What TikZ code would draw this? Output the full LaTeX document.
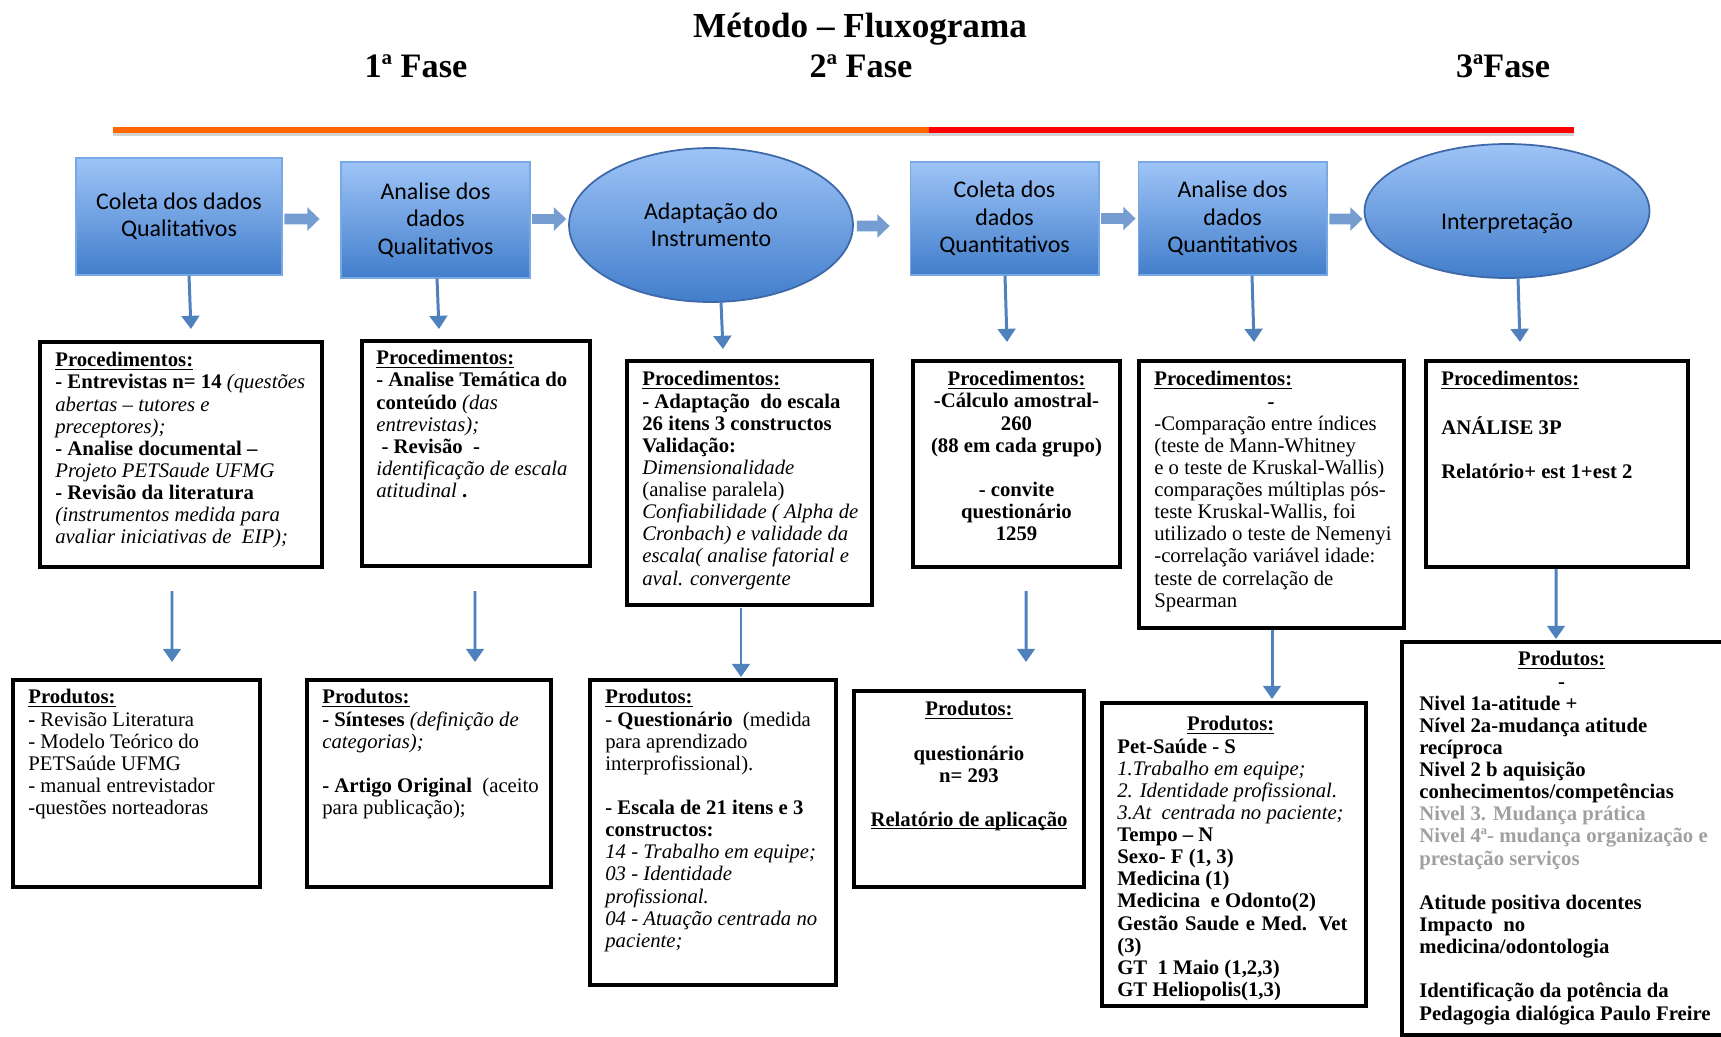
\documentclass[tikz,border=0pt]{standalone}
\usepackage{fontspec}
\setmainfont{Liberation Serif}
\newfontfamily\shapefont{Carlito}
\usetikzlibrary{shapes.geometric,arrows.meta,calc}
\definecolor{topb}{RGB}{158,196,247}
\definecolor{botb}{RGB}{66,126,203}
\definecolor{edgeb}{RGB}{62,104,168}
\definecolor{arrb}{RGB}{79,129,189}
\definecolor{fatb}{RGB}{118,157,210}
\definecolor{lineor}{RGB}{255,102,0}
\definecolor{linered}{RGB}{255,0,0}
\definecolor{lgray}{RGB}{160,160,160}
\newcommand{\mybf}[1]{\textbf{#1}}
\newcommand{\myit}[1]{\textit{#1}}
\newsavebox\myulbox
\newcommand{\ulb}[1]{\sbox\myulbox{\textbf{#1}}\rlap{\rule[-1.6pt]{\wd\myulbox}{0.6pt}}\usebox\myulbox}
\tikzset{
  rectshape/.style={rectangle, inner sep=0pt, top color=topb, bottom color=botb, draw=topb!60!botb, line width=0.6pt, align=center, font=\shapefont\fontsize{13.6}{15.6}\selectfont},
  ellshape/.style={ellipse, inner sep=0pt, top color=topb, bottom color=botb, draw=edgeb, line width=1pt, align=center, font=\shapefont\fontsize{13.6}{15.6}\selectfont},
  fatarrow/.style={draw=fatb, line width=6.2pt, -{Triangle[width=13pt,length=7pt]}},
  varrow/.style={draw=arrb, line width=1.7pt, -{Triangle[width=10pt,length=7.5pt]}},
  infobox/.style={draw=black, line width=2.3pt, inner sep=0pt, anchor=north west, fill=white},
  ltext/.style={inner sep=0pt, anchor=north west, align=left, font=\fontsize{11.8}{12.6}\selectfont},
  ctext/.style={inner sep=0pt, anchor=north, align=center, font=\fontsize{11.8}{12.6}\selectfont},
  headtext/.style={inner sep=0pt, anchor=base, font=\bfseries\fontsize{19.5}{23}\selectfont}
}
\begin{document}
\begin{tikzpicture}[x=0.02cm, y=-0.02cm]
\useasboundingbox (0,0) rectangle (1721,1036);
\fill[white] (0,0) rectangle (1721,1036);

% title and phases
\node[inner sep=0pt, anchor=base, font=\bfseries\fontsize{20}{24}\selectfont] (title) at (860,37) {Método – Fluxograma};
\node[headtext] (ph1) at (416,77) {1ª Fase};
\node[headtext] (ph2) at (861,77) {2ª Fase};
\node[headtext] (ph3) at (1503,77) {3ªFase};

% phase line
\coordinate (l0) at (113,130);
\coordinate (l1) at (929,130);
\coordinate (l2) at (1574,130);
\draw[gray!35, line width=1.8pt] ($(l0)+(0,4)$) -- ($(l2)+(0,4)$);
\draw[lineor, line width=2.9pt] (l0) -- (l1);
\draw[linered, line width=2.9pt] (l1) -- (l2);

% top shapes
\node[rectshape, minimum width=4.12cm, minimum height=2.34cm] (r1) at (179,216.5) {Coleta dos dados\\Qualitativos};
\node[rectshape, minimum width=3.78cm, minimum height=2.32cm] (r2) at (435.5,220) {Analise dos\\dados\\Qualitativos};
\node[ellshape, minimum width=5.68cm, minimum height=3.08cm] (e3) at (711,225) {Adaptação do\\Instrumento};
\node[rectshape, minimum width=3.78cm, minimum height=2.26cm] (r4) at (1004.5,218.5) {Coleta dos\\dados\\Quantitativos};
\node[rectshape, minimum width=3.78cm, minimum height=2.26cm] (r5) at (1232.5,218.5) {Analise dos\\dados\\Quantitativos};
\node[ellshape, minimum width=5.70cm, minimum height=2.68cm] (e6) at (1507,211) {};
\node[inner sep=0pt, font=\shapefont\fontsize{13.6}{15.6}\selectfont] (e6t) at (1507,224) {Interpretação};

% fat arrows
\draw[fatarrow, shorten <=1.1pt, shorten >=11.9pt] ($(r1.east)+(0,2.5)$) -- ($(r2.west)+(0,-1)$);
\draw[fatarrow, shorten <=1.1pt, shorten >=1.1pt] ($(r2.east)+(0,-1)$) -- ($(e3.west)+(0,-6)$);
\draw[fatarrow, shorten <=1.7pt, shorten >=11.3pt] ($(e3.east)+(0,1)$) -- ($(r4.west)+(0,7.5)$);
\draw[fatarrow, shorten <=1.1pt, shorten >=1.1pt] (r4.east) -- (r5.west);
\draw[fatarrow, shorten <=1.1pt, shorten >=0.6pt] ($(r5.east)+(0,0.5)$) -- ($(e6.west)+(0,8)$);

% procedure boxes
\node[infobox, minimum width=5.64cm, minimum height=4.50cm] (p1) at (38,340) {};
\node[infobox, minimum width=4.56cm, minimum height=4.50cm] (p2) at (360,339) {};
\node[infobox, minimum width=4.90cm, minimum height=4.88cm] (p3) at (625,359) {};
\node[infobox, minimum width=4.14cm, minimum height=4.12cm] (p4) at (911,359) {};
\node[infobox, minimum width=5.30cm, minimum height=5.34cm] (p5) at (1137,359) {};
\node[infobox, minimum width=5.24cm, minimum height=4.12cm] (p6) at (1424,359) {};

\node[ltext] (p1t) at ($(p1.north west)+(17,11)$) {\strut\ulb{Procedimentos:}\\
\mybf{- Entrevistas n= 14} \myit{(questões}\\
\myit{abertas – tutores e}\\
\myit{preceptores);}\\
\mybf{- Analise documental –}\\
\myit{Projeto PETSaude UFMG}\\
\mybf{- Revisão da literatura}\\
\myit{(instrumentos medida para}\\
\myit{avaliar iniciativas de\ \ EIP);}};

\node[ltext] (p2t) at ($(p2.north west)+(16,10)$) {\strut\ulb{Procedimentos:}\\
\mybf{- Analise Temática do}\\
\mybf{conteúdo} \myit{(das}\\
\myit{entrevistas);}\\
\hspace*{3pt}\mybf{- Revisão\ \ -}\\
\myit{identificação de escala}\\
\myit{atitudinal} \mybf{.}};

\node[ltext] (p3t) at ($(p3.north west)+(17,11)$) {\strut\ulb{Procedimentos:}\\
\mybf{- Adaptação\ \ do escala}\\
\mybf{26 itens 3 constructos}\\
\mybf{Validação:}\\
\myit{Dimensionalidade}\\
(analise paralela)\\
\myit{Confiabilidade ( Alpha de}\\
\myit{Cronbach) e validade da}\\
\myit{escala( analise fatorial e}\\
\myit{aval. convergente}};

\node[ctext] (p4t) at ($(p4.north)+(0,11)$) {\strut\ulb{Procedimentos:}\\
\mybf{-Cálculo amostral-}\\
\mybf{260}\\
\mybf{(88 em cada grupo)}\\
\strut\\
\mybf{- convite}\\
\mybf{questionário}\\
\mybf{1259}};

\node[ltext] (p5t) at ($(p5.north west)+(17,11)$) {\strut\ulb{Procedimentos:}\\
\makebox[133pt]{\mybf{-}}\\
-Comparação entre índices\\
(teste de Mann-Whitney\\
e o teste de Kruskal-Wallis)\\
comparações múltiplas pós-\\
teste Kruskal-Wallis, foi\\
utilizado o teste de Nemenyi\\
-correlação variável idade:\\
teste de correlação de\\
Spearman};

\node[ltext] (p6t) at ($(p6.north west)+(17,11)$) {\strut\ulb{Procedimentos:}\\
\strut\\
\mybf{ANÁLISE 3P}\\
\strut\\
\mybf{Relatório+ est 1+est 2}};

% product boxes
\node[infobox, minimum width=4.94cm, minimum height=4.14cm] (q1) at (11,678) {};
\node[infobox, minimum width=4.88cm, minimum height=4.14cm] (q2) at (305,678) {};
\node[infobox, minimum width=4.92cm, minimum height=6.10cm] (q3) at (588,678) {};
\node[infobox, minimum width=4.60cm, minimum height=3.92cm] (q4) at (852,689) {};
\node[infobox, minimum width=5.28cm, minimum height=6.06cm] (q5) at (1100,701) {};
\node[infobox, minimum width=6.60cm, minimum height=7.86cm] (q6) at (1400,640) {};

\node[ltext] (q1t) at ($(q1.north west)+(17,10)$) {\strut\ulb{Produtos:}\\
\mybf{-} Revisão Literatura\\
- Modelo Teórico do\\
PETSaúde UFMG\\
- manual entrevistador\\
-questões norteadoras};

\node[ltext] (q2t) at ($(q2.north west)+(17,10)$) {\strut\ulb{Produtos:}\\
\mybf{- Sínteses} \myit{(definição de}\\
\myit{categorias);}\\
\strut\\
\mybf{- Artigo Original}\ \ (aceito\\
para publicação);};

\node[ltext] (q3t) at ($(q3.north west)+(17,10)$) {\strut\ulb{Produtos:}\\
- \mybf{Questionário}\ \ (medida\\
para aprendizado\\
interprofissional).\\
\strut\\
\mybf{- Escala de 21 itens e 3}\\
\mybf{constructos:}\\
\myit{14 - Trabalho em equipe;}\\
\myit{03 - Identidade}\\
\myit{profissional.}\\
\myit{04 - Atuação centrada no}\\
\myit{paciente;}};

\node[ctext] (q4t) at ($(q4.north)+(0,11)$) {\strut\ulb{Produtos:}\\
\strut\\
\mybf{questionário}\\
\mybf{n= 293}\\
\strut\\
\ulb{Relatório de aplicação}};

\begin{scope}
\clip ($(q5.north west)+(4,4)$) rectangle ($(q5.south east)+(-4,-4)$);
\node[ltext] (q5t) at ($(q5.north west)+(17,14)$) {\strut\makebox[129pt]{\ulb{Produtos:}}\\
\mybf{Pet-Saúde - S}\\
\myit{1.Trabalho em equipe;}\\
\myit{2. Identidade profissional.}\\
\myit{3.At\ \ centrada no paciente;}\\
\mybf{Tempo – N}\\
\mybf{Sexo- F (1, 3)}\\
\mybf{Medicina (1)}\\
\mybf{Medicina\ \ e Odonto(2)}\\
\makebox[131pt][s]{\bfseries Gestão Saude e Med. Vet}\\
\mybf{(3)}\\
\mybf{GT\ \ 1 Maio (1,2,3)}\\
\mybf{GT Heliopolis(1,3)}};
\end{scope}

\node[ltext] (q6t) at ($(q6.north west)+(19,10)$) {\strut\makebox[162pt]{\ulb{Produtos:}}\\
\makebox[162pt]{\mybf{-}}\\
\mybf{Nivel 1a-atitude +}\\
\mybf{Nível 2a-mudança atitude}\\
\mybf{recíproca}\\
\mybf{Nivel 2 b aquisição}\\
\mybf{conhecimentos/competências}\\
\textcolor{lgray}{\mybf{Nivel 3. Mudança prática}}\\
\textcolor{lgray}{\mybf{Nivel 4ª- mudança organização e}}\\
\textcolor{lgray}{\mybf{prestação serviços}}\\
\strut\\
\mybf{Atitude positiva docentes}\\
\mybf{Impacto\ \ no}\\
\mybf{medicina/odontologia}\\
\strut\\
\mybf{Identificação da potência da}\\
\mybf{Pedagogia dialógica Paulo Freire}};

% vertical arrows, shapes to procedures
\draw[varrow] ($(r1.south)+(10,0)$) -- ($(p1.north)+(10,-11)$);
\draw[varrow] ($(r2.south)+(1.5,0)$) -- ($(p2.north)+(-37,-10)$);
\draw[varrow] ($(e3.south)+(10,-1)$) -- ($(p3.north)+(-26.5,-10)$);
\draw[varrow] ($(r4.south)+(0.5,0)$) -- ($(p4.north)+(-9.5,-17)$);
\draw[varrow] ($(r5.south)+(19.5,0)$) -- ($(p5.north)+(-17.5,-17)$);
\draw[varrow] ($(e6.south)+(11,-1)$) -- ($(p6.north)+(-37,-17)$);

% vertical arrows, procedures to products
\draw[varrow] ($(p1.south)+(-9,22)$) -- ($(q1.north)+(35.5,-16)$);
\draw[varrow] ($(p2.south)+(-1,23)$) -- ($(q2.north)+(46,-16)$);
\draw[varrow] ($(p3.south)+(-8.5,1)$) -- ($(q3.north)+(28,-1)$);
\draw[varrow] ($(p4.south)+(9.5,22)$) -- ($(q4.north)+(57,-27)$);
\draw[varrow] ($(p5.south)+(0.5,0)$) -- ($(q5.north)+(38,-2)$);
\draw[varrow] ($(p6.south)+(-1,0)$) -- ($(q6.north)+(-11,-1)$);
\end{tikzpicture}
\end{document}
